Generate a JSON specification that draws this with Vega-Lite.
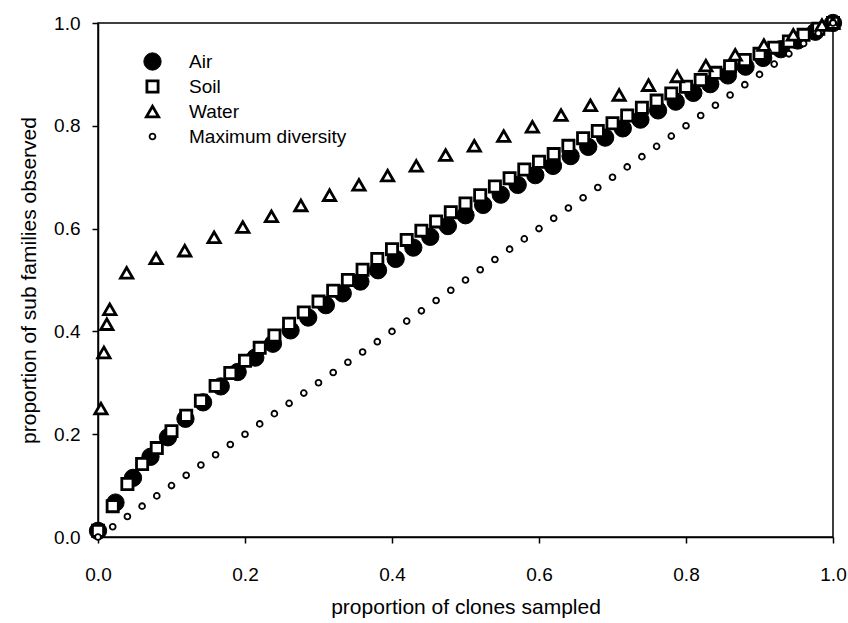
{
  "$schema": "https://vega.github.io/schema/vega-lite/v6.json",
  "width": 735,
  "height": 514,
  "autosize": "none",
  "padding": {"left": 98, "top": 23, "right": 15, "bottom": 86},
  "background": "white",
  "config": {
    "font": "Liberation Sans",
    "view": {"stroke": "black", "strokeWidth": 1.5},
    "axis": {"grid": false, "domainColor": "black", "domainWidth": 1.5, "tickColor": "black", "tickWidth": 1.5, "tickSize": 6, "labelColor": "black", "titleColor": "black", "labelFontSize": 19, "titleFontSize": 21, "titleFontWeight": "normal", "labelFont": "Liberation Sans", "titleFont": "Liberation Sans", "labelFlush": false}
  },
  "data": {"values": [
    {"series": "Air", "x": 0, "y": 0.012},
    {"series": "Air", "x": 0.0238, "y": 0.067},
    {"series": "Air", "x": 0.0476, "y": 0.115},
    {"series": "Air", "x": 0.0714, "y": 0.156},
    {"series": "Air", "x": 0.0952, "y": 0.194},
    {"series": "Air", "x": 0.119, "y": 0.230},
    {"series": "Air", "x": 0.143, "y": 0.262},
    {"series": "Air", "x": 0.167, "y": 0.293},
    {"series": "Air", "x": 0.190, "y": 0.321},
    {"series": "Air", "x": 0.214, "y": 0.349},
    {"series": "Air", "x": 0.238, "y": 0.376},
    {"series": "Air", "x": 0.262, "y": 0.402},
    {"series": "Air", "x": 0.286, "y": 0.427},
    {"series": "Air", "x": 0.310, "y": 0.451},
    {"series": "Air", "x": 0.333, "y": 0.474},
    {"series": "Air", "x": 0.357, "y": 0.497},
    {"series": "Air", "x": 0.381, "y": 0.519},
    {"series": "Air", "x": 0.405, "y": 0.541},
    {"series": "Air", "x": 0.429, "y": 0.563},
    {"series": "Air", "x": 0.452, "y": 0.584},
    {"series": "Air", "x": 0.476, "y": 0.605},
    {"series": "Air", "x": 0.500, "y": 0.626},
    {"series": "Air", "x": 0.524, "y": 0.646},
    {"series": "Air", "x": 0.548, "y": 0.666},
    {"series": "Air", "x": 0.571, "y": 0.685},
    {"series": "Air", "x": 0.595, "y": 0.704},
    {"series": "Air", "x": 0.619, "y": 0.722},
    {"series": "Air", "x": 0.643, "y": 0.741},
    {"series": "Air", "x": 0.667, "y": 0.759},
    {"series": "Air", "x": 0.690, "y": 0.777},
    {"series": "Air", "x": 0.714, "y": 0.795},
    {"series": "Air", "x": 0.738, "y": 0.812},
    {"series": "Air", "x": 0.762, "y": 0.830},
    {"series": "Air", "x": 0.786, "y": 0.847},
    {"series": "Air", "x": 0.810, "y": 0.864},
    {"series": "Air", "x": 0.833, "y": 0.881},
    {"series": "Air", "x": 0.857, "y": 0.898},
    {"series": "Air", "x": 0.881, "y": 0.915},
    {"series": "Air", "x": 0.905, "y": 0.932},
    {"series": "Air", "x": 0.929, "y": 0.949},
    {"series": "Air", "x": 0.952, "y": 0.966},
    {"series": "Air", "x": 0.976, "y": 0.983},
    {"series": "Air", "x": 1.0, "y": 1.0},
    {"series": "Soil", "x": 0, "y": 0.012},
    {"series": "Soil", "x": 0.02, "y": 0.06},
    {"series": "Soil", "x": 0.04, "y": 0.103},
    {"series": "Soil", "x": 0.06, "y": 0.142},
    {"series": "Soil", "x": 0.08, "y": 0.173},
    {"series": "Soil", "x": 0.10, "y": 0.206},
    {"series": "Soil", "x": 0.12, "y": 0.236},
    {"series": "Soil", "x": 0.14, "y": 0.265},
    {"series": "Soil", "x": 0.16, "y": 0.294},
    {"series": "Soil", "x": 0.18, "y": 0.319},
    {"series": "Soil", "x": 0.20, "y": 0.343},
    {"series": "Soil", "x": 0.22, "y": 0.368},
    {"series": "Soil", "x": 0.24, "y": 0.392},
    {"series": "Soil", "x": 0.26, "y": 0.415},
    {"series": "Soil", "x": 0.28, "y": 0.437},
    {"series": "Soil", "x": 0.30, "y": 0.458},
    {"series": "Soil", "x": 0.32, "y": 0.479},
    {"series": "Soil", "x": 0.34, "y": 0.5},
    {"series": "Soil", "x": 0.36, "y": 0.52},
    {"series": "Soil", "x": 0.38, "y": 0.541},
    {"series": "Soil", "x": 0.40, "y": 0.56},
    {"series": "Soil", "x": 0.42, "y": 0.578},
    {"series": "Soil", "x": 0.44, "y": 0.596},
    {"series": "Soil", "x": 0.46, "y": 0.614},
    {"series": "Soil", "x": 0.48, "y": 0.632},
    {"series": "Soil", "x": 0.50, "y": 0.649},
    {"series": "Soil", "x": 0.52, "y": 0.665},
    {"series": "Soil", "x": 0.54, "y": 0.682},
    {"series": "Soil", "x": 0.56, "y": 0.698},
    {"series": "Soil", "x": 0.58, "y": 0.715},
    {"series": "Soil", "x": 0.60, "y": 0.73},
    {"series": "Soil", "x": 0.62, "y": 0.745},
    {"series": "Soil", "x": 0.64, "y": 0.761},
    {"series": "Soil", "x": 0.66, "y": 0.776},
    {"series": "Soil", "x": 0.68, "y": 0.79},
    {"series": "Soil", "x": 0.70, "y": 0.805},
    {"series": "Soil", "x": 0.72, "y": 0.82},
    {"series": "Soil", "x": 0.74, "y": 0.835},
    {"series": "Soil", "x": 0.76, "y": 0.849},
    {"series": "Soil", "x": 0.78, "y": 0.863},
    {"series": "Soil", "x": 0.80, "y": 0.876},
    {"series": "Soil", "x": 0.82, "y": 0.889},
    {"series": "Soil", "x": 0.84, "y": 0.903},
    {"series": "Soil", "x": 0.86, "y": 0.916},
    {"series": "Soil", "x": 0.88, "y": 0.928},
    {"series": "Soil", "x": 0.90, "y": 0.94},
    {"series": "Soil", "x": 0.92, "y": 0.952},
    {"series": "Soil", "x": 0.94, "y": 0.964},
    {"series": "Soil", "x": 0.96, "y": 0.977},
    {"series": "Soil", "x": 0.98, "y": 0.989},
    {"series": "Soil", "x": 1.0, "y": 1.0},
    {"series": "Water", "x": 0.004, "y": 0.25},
    {"series": "Water", "x": 0.008, "y": 0.359},
    {"series": "Water", "x": 0.012, "y": 0.414},
    {"series": "Water", "x": 0.016, "y": 0.443},
    {"series": "Water", "x": 0.039, "y": 0.514},
    {"series": "Water", "x": 0.079, "y": 0.542},
    {"series": "Water", "x": 0.118, "y": 0.557},
    {"series": "Water", "x": 0.158, "y": 0.583},
    {"series": "Water", "x": 0.197, "y": 0.603},
    {"series": "Water", "x": 0.236, "y": 0.624},
    {"series": "Water", "x": 0.276, "y": 0.645},
    {"series": "Water", "x": 0.315, "y": 0.665},
    {"series": "Water", "x": 0.355, "y": 0.685},
    {"series": "Water", "x": 0.394, "y": 0.703},
    {"series": "Water", "x": 0.433, "y": 0.722},
    {"series": "Water", "x": 0.473, "y": 0.743},
    {"series": "Water", "x": 0.512, "y": 0.761},
    {"series": "Water", "x": 0.552, "y": 0.780},
    {"series": "Water", "x": 0.591, "y": 0.798},
    {"series": "Water", "x": 0.630, "y": 0.821},
    {"series": "Water", "x": 0.670, "y": 0.840},
    {"series": "Water", "x": 0.709, "y": 0.860},
    {"series": "Water", "x": 0.749, "y": 0.879},
    {"series": "Water", "x": 0.788, "y": 0.896},
    {"series": "Water", "x": 0.827, "y": 0.917},
    {"series": "Water", "x": 0.867, "y": 0.938},
    {"series": "Water", "x": 0.906, "y": 0.957},
    {"series": "Water", "x": 0.946, "y": 0.977},
    {"series": "Water", "x": 0.985, "y": 0.996},
    {"series": "Water", "x": 1.0, "y": 1.0},
    {"series": "Maximum diversity", "x": 0.0, "y": 0.0},
    {"series": "Maximum diversity", "x": 0.02, "y": 0.02},
    {"series": "Maximum diversity", "x": 0.04, "y": 0.04},
    {"series": "Maximum diversity", "x": 0.06, "y": 0.06},
    {"series": "Maximum diversity", "x": 0.08, "y": 0.08},
    {"series": "Maximum diversity", "x": 0.10, "y": 0.10},
    {"series": "Maximum diversity", "x": 0.12, "y": 0.12},
    {"series": "Maximum diversity", "x": 0.14, "y": 0.14},
    {"series": "Maximum diversity", "x": 0.16, "y": 0.16},
    {"series": "Maximum diversity", "x": 0.18, "y": 0.18},
    {"series": "Maximum diversity", "x": 0.20, "y": 0.20},
    {"series": "Maximum diversity", "x": 0.22, "y": 0.22},
    {"series": "Maximum diversity", "x": 0.24, "y": 0.24},
    {"series": "Maximum diversity", "x": 0.26, "y": 0.26},
    {"series": "Maximum diversity", "x": 0.28, "y": 0.28},
    {"series": "Maximum diversity", "x": 0.30, "y": 0.30},
    {"series": "Maximum diversity", "x": 0.32, "y": 0.32},
    {"series": "Maximum diversity", "x": 0.34, "y": 0.34},
    {"series": "Maximum diversity", "x": 0.36, "y": 0.36},
    {"series": "Maximum diversity", "x": 0.38, "y": 0.38},
    {"series": "Maximum diversity", "x": 0.40, "y": 0.40},
    {"series": "Maximum diversity", "x": 0.42, "y": 0.42},
    {"series": "Maximum diversity", "x": 0.44, "y": 0.44},
    {"series": "Maximum diversity", "x": 0.46, "y": 0.46},
    {"series": "Maximum diversity", "x": 0.48, "y": 0.48},
    {"series": "Maximum diversity", "x": 0.50, "y": 0.50},
    {"series": "Maximum diversity", "x": 0.52, "y": 0.52},
    {"series": "Maximum diversity", "x": 0.54, "y": 0.54},
    {"series": "Maximum diversity", "x": 0.56, "y": 0.56},
    {"series": "Maximum diversity", "x": 0.58, "y": 0.58},
    {"series": "Maximum diversity", "x": 0.60, "y": 0.60},
    {"series": "Maximum diversity", "x": 0.62, "y": 0.62},
    {"series": "Maximum diversity", "x": 0.64, "y": 0.64},
    {"series": "Maximum diversity", "x": 0.66, "y": 0.66},
    {"series": "Maximum diversity", "x": 0.68, "y": 0.68},
    {"series": "Maximum diversity", "x": 0.70, "y": 0.70},
    {"series": "Maximum diversity", "x": 0.72, "y": 0.72},
    {"series": "Maximum diversity", "x": 0.74, "y": 0.74},
    {"series": "Maximum diversity", "x": 0.76, "y": 0.76},
    {"series": "Maximum diversity", "x": 0.78, "y": 0.78},
    {"series": "Maximum diversity", "x": 0.80, "y": 0.80},
    {"series": "Maximum diversity", "x": 0.82, "y": 0.82},
    {"series": "Maximum diversity", "x": 0.84, "y": 0.84},
    {"series": "Maximum diversity", "x": 0.86, "y": 0.86},
    {"series": "Maximum diversity", "x": 0.88, "y": 0.88},
    {"series": "Maximum diversity", "x": 0.90, "y": 0.90},
    {"series": "Maximum diversity", "x": 0.92, "y": 0.92},
    {"series": "Maximum diversity", "x": 0.94, "y": 0.94},
    {"series": "Maximum diversity", "x": 0.96, "y": 0.96},
    {"series": "Maximum diversity", "x": 0.98, "y": 0.98},
    {"series": "Maximum diversity", "x": 1.0, "y": 1.0}
  ]},
  "mark": {"type": "point", "filled": true, "stroke": "black", "opacity": 1},
  "encoding": {
    "x": {"field": "x", "type": "quantitative", "scale": {"domain": [0, 1], "nice": false}, "axis": {"title": "proportion of clones sampled", "values": [0, 0.2, 0.4, 0.6, 0.8, 1.0], "format": ".1f", "labelPadding": 22, "titlePadding": 12, "labelFontSize": 19, "titleFontSize": 21}},
    "y": {"field": "y", "type": "quantitative", "scale": {"domain": [0, 1], "nice": false}, "axis": {"title": "proportion of sub families observed", "values": [0, 0.2, 0.4, 0.6, 0.8, 1.0], "format": ".1f", "labelPadding": 12, "titlePadding": 14, "labelFontSize": 19, "titleFontSize": 21}},
    "shape": {"field": "series", "type": "nominal", "scale": {"domain": ["Air", "Soil", "Water", "Maximum diversity"], "range": ["circle", "square", "triangle-up", "circle"]},
      "legend": {"title": null, "orient": "none", "legendX": 45, "legendY": 26, "labelFontSize": 19, "labelColor": "black", "labelFont": "Liberation Sans", "labelOffset": 27, "clipHeight": 25, "rowPadding": 0, "padding": 0, "symbolStrokeColor": "black"}},
    "fill": {"field": "series", "type": "nominal", "scale": {"domain": ["Air", "Soil", "Water", "Maximum diversity"], "range": ["black", "white", "white", "white"]}},
    "size": {"field": "series", "type": "nominal", "scale": {"type": "ordinal", "domain": ["Air", "Soil", "Water", "Maximum diversity"], "range": [300, 125, 150, 34]}},
    "strokeWidth": {"field": "series", "type": "nominal", "scale": {"type": "ordinal", "domain": ["Air", "Soil", "Water", "Maximum diversity"], "range": [1, 2.8, 2.8, 1.8]}}
  }
}
